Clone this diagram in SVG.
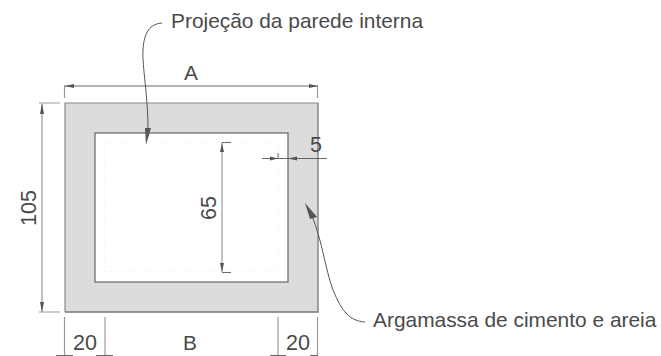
<svg xmlns="http://www.w3.org/2000/svg" width="661" height="356" viewBox="0 0 661 356">
<style>
.t{font-family:"Liberation Sans",Arial,sans-serif;font-size:20.9px;fill:#4a4a4a}
.n{font-size:21.5px}
.d{fill:none;stroke:#666;stroke-width:1}
.g{fill:none;stroke:#999;stroke-width:1.2}
.l{fill:none;stroke:#555;stroke-width:1}
.a{fill:#555;stroke:none}
</style>
<rect width="661" height="356" fill="#fff"/>
<g id="wall">
<rect x="65" y="103" width="253" height="209" fill="#dcdcdc"/>
<path d="M65 312V103H318" fill="none" stroke="#8a8a8a" stroke-width="1.2"/>
<path d="M318 103V312H65" fill="none" stroke="#777" stroke-width="1.3"/>
<rect x="95" y="133" width="193" height="149" fill="#fff" stroke="#666" stroke-width="1.2"/>
<rect x="104.500" y="142.500" width="174" height="129" fill="none" stroke="#f7f7f7" stroke-width="1" stroke-dasharray="3 2"/>
</g>
<g id="connectors">
<path class="g" d="M64.500 86V98M317.500 86V98M39 103H60M39 312H60"/>
<path class="d" d="M64 86H318"/>
<path class="a" d="M65 86L74 84V88ZM318 86L309 84V88Z"/>
<path class="g" d="M42 104V312"/>
<path class="a" d="M42 103L40 114H44ZM42 312L40 302H44Z"/>
<path class="g" d="M222 143V272"/>
<path class="d" d="M222 142.500H231M222 272.500H231"/>
<path class="a" d="M222 143L220 152H224ZM222 272L220 263H224Z"/>
<path class="d" d="M262 158.500H327M278 153V158"/>
<path class="a" d="M288 158.500L297 156.500V160.500ZM278 158.500L270 156.500V160.500Z"/>
<path class="g" d="M64.500 317V356M105 317V356M278 317V356M317.500 317V356"/>
<path class="d" d="M56 355.500H73M96 355.500H113M270 355.500H286M310 355.500H318"/>
<path class="l" d="M162 23C150 24 144 32 143 50C142 66 148 95 148 130"/>
<path class="a" d="M146 145L145 128H151Z"/>
<path class="l" d="M365 322C350 321 342 312 333 290C325 268 322 240 312 216"/>
<path class="a" d="M305 203L317 217L310 219Z"/>
</g>
<g id="labels">
<text class="t" x="171" y="28">Projeção da parede interna</text>
<text class="t" x="184" y="80">A</text>
<text class="t n" x="310" y="152">5</text>
<text class="t" x="373" y="327">Argamassa de cimento e areia</text>
<text class="t" x="183" y="350">B</text>
<text class="t n" x="73" y="350">20</text>
<text class="t n" x="286" y="350">20</text>
<text class="t n" transform="translate(36 208) rotate(-90)" text-anchor="middle">105</text>
<text class="t n" transform="translate(216 208) rotate(-90)" text-anchor="middle">65</text>
</g>
</svg>
